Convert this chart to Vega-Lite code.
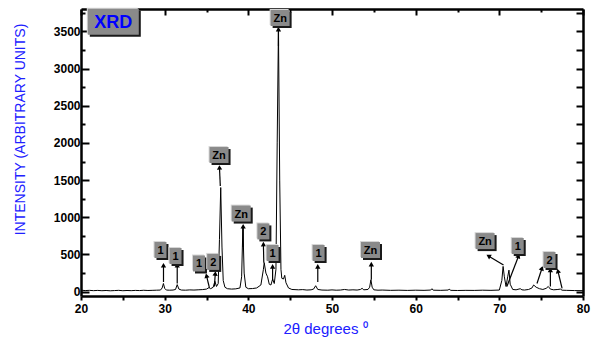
{
  "$schema": "https://vega.github.io/schema/vega-lite/v6.json",
  "autosize": {"type": "none"},
  "padding": {"left": 81, "top": 9, "right": 12, "bottom": 42},
  "width": 502,
  "height": 287,
  "background": "white",
  "config": {"view": {"stroke": null}},
  "datasets": {
    "spectrum": [
      {"theta": 20.0, "intensity": 20}, {"theta": 20.5, "intensity": 15}, {"theta": 21.0, "intensity": 18},
      {"theta": 21.5, "intensity": 14}, {"theta": 22.0, "intensity": 17}, {"theta": 22.5, "intensity": 13},
      {"theta": 23.0, "intensity": 16}, {"theta": 23.5, "intensity": 12}, {"theta": 24.0, "intensity": 15},
      {"theta": 24.5, "intensity": 18}, {"theta": 25.0, "intensity": 13}, {"theta": 25.5, "intensity": 16},
      {"theta": 26.0, "intensity": 14}, {"theta": 26.5, "intensity": 17}, {"theta": 27.0, "intensity": 15},
      {"theta": 27.5, "intensity": 19}, {"theta": 28.0, "intensity": 16}, {"theta": 28.5, "intensity": 18},
      {"theta": 29.0, "intensity": 20}, {"theta": 29.5, "intensity": 22}, {"theta": 29.7, "intensity": 50},
      {"theta": 29.85, "intensity": 110}, {"theta": 30.0, "intensity": 45}, {"theta": 30.2, "intensity": 22},
      {"theta": 30.6, "intensity": 20}, {"theta": 31.0, "intensity": 22}, {"theta": 31.3, "intensity": 30},
      {"theta": 31.5, "intensity": 95}, {"theta": 31.7, "intensity": 35}, {"theta": 32.0, "intensity": 22},
      {"theta": 32.5, "intensity": 20}, {"theta": 33.0, "intensity": 24}, {"theta": 33.5, "intensity": 22},
      {"theta": 34.0, "intensity": 25}, {"theta": 34.5, "intensity": 28}, {"theta": 35.0, "intensity": 35},
      {"theta": 35.3, "intensity": 55}, {"theta": 35.5, "intensity": 40}, {"theta": 35.8, "intensity": 60},
      {"theta": 36.0, "intensity": 140}, {"theta": 36.2, "intensity": 70}, {"theta": 36.4, "intensity": 110},
      {"theta": 36.55, "intensity": 700}, {"theta": 36.7, "intensity": 1400}, {"theta": 36.85, "intensity": 600},
      {"theta": 37.0, "intensity": 150}, {"theta": 37.2, "intensity": 60}, {"theta": 37.5, "intensity": 40},
      {"theta": 38.0, "intensity": 35}, {"theta": 38.5, "intensity": 38}, {"theta": 39.0, "intensity": 50},
      {"theta": 39.2, "intensity": 200}, {"theta": 39.35, "intensity": 880}, {"theta": 39.5, "intensity": 250},
      {"theta": 39.7, "intensity": 60}, {"theta": 40.0, "intensity": 40}, {"theta": 40.5, "intensity": 42},
      {"theta": 41.0, "intensity": 50}, {"theta": 41.5, "intensity": 90}, {"theta": 41.8, "intensity": 300},
      {"theta": 41.9, "intensity": 390}, {"theta": 42.1, "intensity": 250}, {"theta": 42.3, "intensity": 200},
      {"theta": 42.5, "intensity": 100}, {"theta": 42.7, "intensity": 90}, {"theta": 42.9, "intensity": 170},
      {"theta": 43.1, "intensity": 110}, {"theta": 43.3, "intensity": 300}, {"theta": 43.45, "intensity": 2000},
      {"theta": 43.6, "intensity": 3540}, {"theta": 43.75, "intensity": 1500}, {"theta": 43.9, "intensity": 300},
      {"theta": 44.0, "intensity": 180}, {"theta": 44.2, "intensity": 170}, {"theta": 44.35, "intensity": 220},
      {"theta": 44.5, "intensity": 120}, {"theta": 44.8, "intensity": 50}, {"theta": 45.2, "intensity": 30},
      {"theta": 46.0, "intensity": 25}, {"theta": 46.5, "intensity": 28}, {"theta": 47.0, "intensity": 22},
      {"theta": 47.5, "intensity": 25}, {"theta": 47.8, "intensity": 35}, {"theta": 48.05, "intensity": 80},
      {"theta": 48.3, "intensity": 30}, {"theta": 48.8, "intensity": 22}, {"theta": 49.5, "intensity": 20},
      {"theta": 50.0, "intensity": 24}, {"theta": 50.5, "intensity": 20}, {"theta": 51.0, "intensity": 22},
      {"theta": 51.5, "intensity": 30}, {"theta": 52.0, "intensity": 22}, {"theta": 52.5, "intensity": 25},
      {"theta": 53.0, "intensity": 22}, {"theta": 53.4, "intensity": 30}, {"theta": 53.6, "intensity": 45},
      {"theta": 53.8, "intensity": 25}, {"theta": 54.3, "intensity": 30}, {"theta": 54.5, "intensity": 60},
      {"theta": 54.65, "intensity": 160}, {"theta": 54.8, "intensity": 60}, {"theta": 55.0, "intensity": 25},
      {"theta": 55.5, "intensity": 20}, {"theta": 56.0, "intensity": 22}, {"theta": 57.0, "intensity": 18},
      {"theta": 58.0, "intensity": 20}, {"theta": 59.0, "intensity": 17}, {"theta": 60.0, "intensity": 20},
      {"theta": 61.0, "intensity": 18}, {"theta": 61.8, "intensity": 22}, {"theta": 61.95, "intensity": 40},
      {"theta": 62.1, "intensity": 20}, {"theta": 63.0, "intensity": 18}, {"theta": 63.9, "intensity": 22},
      {"theta": 64.0, "intensity": 35}, {"theta": 64.2, "intensity": 18}, {"theta": 65.0, "intensity": 16},
      {"theta": 66.0, "intensity": 18}, {"theta": 67.0, "intensity": 17}, {"theta": 68.0, "intensity": 20},
      {"theta": 69.0, "intensity": 18}, {"theta": 70.0, "intensity": 22}, {"theta": 70.3, "intensity": 150},
      {"theta": 70.45, "intensity": 340}, {"theta": 70.6, "intensity": 200}, {"theta": 70.8, "intensity": 70},
      {"theta": 71.0, "intensity": 200}, {"theta": 71.15, "intensity": 290}, {"theta": 71.3, "intensity": 100},
      {"theta": 71.6, "intensity": 30}, {"theta": 72.0, "intensity": 25}, {"theta": 72.5, "intensity": 40},
      {"theta": 72.7, "intensity": 25}, {"theta": 73.0, "intensity": 22}, {"theta": 73.5, "intensity": 30},
      {"theta": 73.9, "intensity": 50}, {"theta": 74.1, "intensity": 90}, {"theta": 74.4, "intensity": 60},
      {"theta": 74.8, "intensity": 40}, {"theta": 75.2, "intensity": 30}, {"theta": 75.6, "intensity": 45},
      {"theta": 75.85, "intensity": 70}, {"theta": 76.1, "intensity": 35}, {"theta": 76.5, "intensity": 25},
      {"theta": 77.0, "intensity": 30}, {"theta": 77.3, "intensity": 35}, {"theta": 77.5, "intensity": 20},
      {"theta": 78.0, "intensity": 18}, {"theta": 79.0, "intensity": 15}, {"theta": 80.0, "intensity": 14}
    ],
    "arrows": [
      {"x": 29.86, "y": 130, "x2": 29.86, "y2": 355},
      {"x": 31.5, "y": 110, "x2": 31.5, "y2": 355},
      {"x": 35.35, "y": 50, "x2": 35.0, "y2": 215},
      {"x": 35.95, "y": 70, "x2": 36.05, "y2": 245},
      {"x": 36.65, "y": 1420, "x2": 36.55, "y2": 1670},
      {"x": 39.38, "y": 600, "x2": 39.38, "y2": 880},
      {"x": 41.85, "y": 390, "x2": 41.8, "y2": 640},
      {"x": 42.9, "y": 150, "x2": 42.9, "y2": 340},
      {"x": 43.6, "y": 3300, "x2": 43.6, "y2": 3530},
      {"x": 48.3, "y": 130, "x2": 48.3, "y2": 340},
      {"x": 54.7, "y": 160, "x2": 54.7, "y2": 370},
      {"x": 70.5, "y": 360, "x2": 68.7, "y2": 480},
      {"x": 70.9, "y": 70, "x2": 72.3, "y2": 480},
      {"x": 74.5, "y": 110, "x2": 75.1, "y2": 315},
      {"x": 76.1, "y": 70, "x2": 76.1, "y2": 292},
      {"x": 77.5, "y": 45, "x2": 77.0, "y2": 278}
    ],
    "labels": [
      {"t": "Zn", "x": 43.8, "y": 3679},
      {"t": "Zn", "x": 36.5, "y": 1837},
      {"t": "1", "x": 29.5, "y": 560},
      {"t": "1", "x": 31.3, "y": 480},
      {"t": "1", "x": 34.1, "y": 379},
      {"t": "2", "x": 35.8, "y": 400},
      {"t": "Zn", "x": 39.15, "y": 1050},
      {"t": "2", "x": 41.8, "y": 810},
      {"t": "1", "x": 42.9, "y": 520},
      {"t": "1", "x": 48.4, "y": 520},
      {"t": "Zn", "x": 54.6, "y": 560},
      {"t": "Zn", "x": 68.3, "y": 680},
      {"t": "1", "x": 72.2, "y": 614},
      {"t": "2", "x": 76.0, "y": 426}
    ],
    "heading": [
      {"t": "XRD", "x": 23.86, "y": 3630}
    ]
  },
  "layer": [
    {
      "data": {"name": "spectrum"},
      "mark": {"type": "line", "color": "black", "strokeWidth": 1},
      "encoding": {
        "x": {
          "field": "theta", "type": "quantitative",
          "scale": {"domain": [20, 80], "nice": false, "zero": false},
          "axis": {
            "orient": "bottom",
            "values": [20, 25, 30, 35, 40, 45, 50, 55, 60, 65, 70, 75, 80],
            "labelExpr": "datum.value % 10 === 0 ? datum.label : ''",
            "grid": false,
            "domainColor": "black", "domainWidth": 2.5,
            "tickColor": "black", "tickWidth": 2, "tickSize": 4,
            "labelFont": "Liberation Sans", "labelFontWeight": "bold", "labelFontSize": 12,
            "labelColor": "black", "labelPadding": 3, "labelFlush": false,
            "title": "2θ degrees ⁰",
            "titleFont": "Liberation Sans", "titleFontSize": 15, "titleFontWeight": "normal",
            "titleColor": "#2020ff", "titleX": 244, "titleY": 37,
            "titleBaseline": "alphabetic", "titleAlign": "center"
          }
        },
        "y": {
          "field": "intensity", "type": "quantitative",
          "scale": {"domain": [-58, 3800], "nice": false, "zero": false},
          "axis": {
            "orient": "left",
            "values": [0, 250, 500, 750, 1000, 1250, 1500, 1750, 2000, 2250, 2500, 2750, 3000, 3250, 3500, 3750],
            "labelExpr": "datum.value % 500 === 0 ? datum.label : ''",
            "format": "d",
            "grid": false,
            "domainColor": "black", "domainWidth": 2.5,
            "tickColor": "black", "tickWidth": 2,
            "tickSize": {"condition": {"test": "datum.value % 500 === 0", "value": -8}, "value": -4},
            "labelFont": "Liberation Sans", "labelFontWeight": "bold", "labelFontSize": 12,
            "labelColor": "black", "labelPadding": 9, "labelFlush": false,
            "title": "INTENSITY (ARBITRARY UNITS)",
            "titleFont": "Liberation Sans", "titleFontSize": 14, "titleFontWeight": "normal",
            "titleColor": "#2020ff", "titleX": -61, "titleY": 120, "titleAngle": 270,
            "titleBaseline": "middle", "titleAlign": "center"
          }
        }
      }
    },
    {
      "data": {"name": "arrows"},
      "mark": {"type": "rule", "color": "black", "strokeWidth": 1.2},
      "encoding": {
        "x": {
          "field": "x", "type": "quantitative",
          "axis": {
            "orient": "top",
            "values": [20, 25, 30, 35, 40, 45, 50, 55, 60, 65, 70, 75, 80],
            "labels": false, "grid": false, "title": null,
            "domainColor": "black", "domainWidth": 2.5,
            "tickColor": "black", "tickWidth": 2,
            "tickSize": {"condition": {"test": "datum.value % 10 === 0", "value": -6}, "value": -3}
          }
        },
        "x2": {"field": "x2"},
        "y": {
          "field": "y", "type": "quantitative",
          "axis": {
            "orient": "right",
            "values": [0, 250, 500, 750, 1000, 1250, 1500, 1750, 2000, 2250, 2500, 2750, 3000, 3250, 3500, 3750],
            "labels": false, "grid": false, "title": null,
            "domainColor": "black", "domainWidth": 2.5,
            "tickColor": "black", "tickWidth": 2, "tickSize": -7
          }
        },
        "y2": {"field": "y2"}
      }
    },
    {
      "data": {"name": "arrows"},
      "transform": [
        {"calculate": "atan2((datum.x2 - datum.x) * 8.367, (datum.y2 - datum.y) * 0.07439) * 180 / PI", "as": "ang"}
      ],
      "mark": {"type": "point", "shape": "triangle-up", "filled": true, "color": "black", "size": 28, "opacity": 1},
      "encoding": {
        "x": {"field": "x2", "type": "quantitative", "axis": null},
        "y": {"field": "y2", "type": "quantitative", "axis": null},
        "angle": {"field": "ang", "type": "quantitative", "scale": null}
      }
    },
    {
      "data": {"name": "labels"},
      "mark": {"type": "point", "filled": true, "color": "#1a1a1a", "size": 256, "opacity": 1, "strokeWidth": 0, "xOffset": 2, "yOffset": 2},
      "encoding": {
        "x": {"field": "x", "type": "quantitative", "axis": null},
        "y": {"field": "y", "type": "quantitative", "axis": null},
        "shape": {"condition": {"test": "datum.t === 'Zn'", "value": "M-1.1875,-1H1.1875V1H-1.1875Z"}, "value": "M-0.75,-1H0.75V1H-0.75Z"}
      }
    },
    {
      "data": {"name": "labels"},
      "mark": {"type": "point", "filled": true, "color": "#d6d6d6", "size": 256, "opacity": 1, "strokeWidth": 0, "xOffset": -1, "yOffset": -1},
      "encoding": {
        "x": {"field": "x", "type": "quantitative", "axis": null},
        "y": {"field": "y", "type": "quantitative", "axis": null},
        "shape": {"condition": {"test": "datum.t === 'Zn'", "value": "M-1.1875,-1H1.1875V1H-1.1875Z"}, "value": "M-0.75,-1H0.75V1H-0.75Z"}
      }
    },
    {
      "data": {"name": "labels"},
      "mark": {"type": "point", "filled": true, "color": "#8a8a8a", "size": 256, "opacity": 1, "strokeWidth": 0},
      "encoding": {
        "x": {"field": "x", "type": "quantitative", "axis": null},
        "y": {"field": "y", "type": "quantitative", "axis": null},
        "shape": {"condition": {"test": "datum.t === 'Zn'", "value": "M-1.1875,-1H1.1875V1H-1.1875Z"}, "value": "M-0.75,-1H0.75V1H-0.75Z"}
      }
    },
    {
      "data": {"name": "labels"},
      "mark": {"type": "text", "font": "Liberation Sans", "fontWeight": "bold", "fontSize": 11, "color": "black", "align": "center", "baseline": "middle", "dy": 1},
      "encoding": {
        "x": {"field": "x", "type": "quantitative", "axis": null},
        "y": {"field": "y", "type": "quantitative", "axis": null},
        "text": {"field": "t"}
      }
    },
    {
      "data": {"name": "heading"},
      "mark": {"type": "point", "filled": true, "color": "#1a1a1a", "size": 676, "opacity": 1, "strokeWidth": 0, "xOffset": 2, "yOffset": 2, "shape": "M-1.9615,-1H1.9615V1H-1.9615Z"},
      "encoding": {
        "x": {"field": "x", "type": "quantitative", "axis": null},
        "y": {"field": "y", "type": "quantitative", "axis": null}
      }
    },
    {
      "data": {"name": "heading"},
      "mark": {"type": "point", "filled": true, "color": "#d6d6d6", "size": 676, "opacity": 1, "strokeWidth": 0, "xOffset": -1, "yOffset": -1, "shape": "M-1.9615,-1H1.9615V1H-1.9615Z"},
      "encoding": {
        "x": {"field": "x", "type": "quantitative", "axis": null},
        "y": {"field": "y", "type": "quantitative", "axis": null}
      }
    },
    {
      "data": {"name": "heading"},
      "mark": {"type": "point", "filled": true, "color": "#8a8a8a", "size": 676, "opacity": 1, "strokeWidth": 0, "shape": "M-1.9615,-1H1.9615V1H-1.9615Z"},
      "encoding": {
        "x": {"field": "x", "type": "quantitative", "axis": null},
        "y": {"field": "y", "type": "quantitative", "axis": null}
      }
    },
    {
      "data": {"name": "heading"},
      "mark": {"type": "text", "font": "Liberation Sans", "fontWeight": "bold", "fontSize": 18, "color": "#0000ff", "align": "center", "baseline": "middle", "dy": 1},
      "encoding": {
        "x": {"field": "x", "type": "quantitative", "axis": null},
        "y": {"field": "y", "type": "quantitative", "axis": null},
        "text": {"field": "t"}
      }
    }
  ],
  "resolve": {"axis": {"x": "independent", "y": "independent"}}
}
